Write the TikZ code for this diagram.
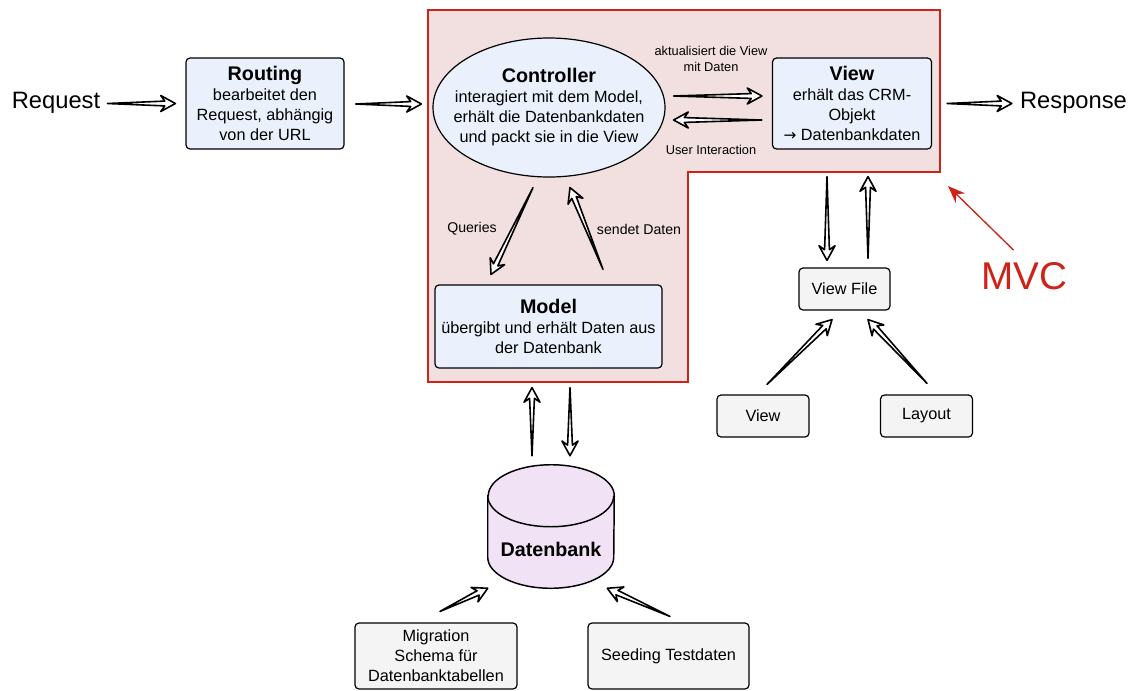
\documentclass[tikz,border=0pt]{standalone}
\usepackage{fontspec}
\setmainfont{Liberation Sans}
\newfontfamily\arrowfont{DejaVu Sans}
\usepackage{xcolor}
\usetikzlibrary{shapes,arrows,arrows.meta,calc,positioning}

\definecolor{boxblue}{HTML}{EAF1FC}
\definecolor{filegray}{HTML}{F4F4F4}
\definecolor{dbpurple}{HTML}{F1E2F6}
\definecolor{mvcpink}{HTML}{F2E0E0}
\definecolor{mvcred}{HTML}{CD2318}

\newcommand{\bodyfont}{\fontsize{12.2}{15}\selectfont}
\newcommand{\titlefont}{\fontsize{14.8}{15}\selectfont\bfseries}
\newcommand{\bigfont}{\fontsize{17.8}{20}\selectfont}
\newcommand{\mvcfont}{\fontsize{29}{32}\selectfont}

% hollow sketch arrow from #1 to #2
\newcommand{\hollowarrow}[2]{%
  \coordinate (ha-s) at #1;
  \coordinate (ha-e) at #2;
  \coordinate (ha-h) at ($(ha-e)!8pt!(ha-s)$);
  \coordinate (ha-b) at ($(ha-e)!11pt!(ha-s)$);
  \draw[hollow] (ha-s) -- ($(ha-h)!1.8pt!90:(ha-e)$) -- ($(ha-b)!6pt!90:(ha-e)$)
    -- (ha-e) -- ($(ha-b)!6pt!-90:(ha-e)$) -- ($(ha-h)!1.8pt!-90:(ha-e)$) -- cycle;}

\begin{document}
\begin{tikzpicture}[x=0.75pt, y=-0.75pt,
  boxnode/.style = {shape=rectangle, rounded corners=3pt,
    draw, line width=0.9pt, align=center, inner sep=0pt, font=\bodyfont},
  bluenode/.style = {boxnode, fill=boxblue},
  graynode/.style = {boxnode, fill=filegray},
  ellnode/.style = {shape=ellipse, draw, line width=0.9pt, fill=boxblue,
    align=center, inner xsep=-14pt, inner ysep=-6pt, font=\bodyfont},
  dbnode/.style = {shape=rectangle, inner sep=0pt, minimum width=94.5pt, minimum height=92.25pt},
  dbshape/.style = {draw, line width=1.1pt, fill=dbpurple},
  smalllabel/.style = {align=center, inner sep=0pt, font=\fontsize{9.6}{12}\selectfont},
  flowlabel/.style = {inner sep=0pt, font=\fontsize{10.6}{13}\selectfont},
  hollow/.style = {draw, fill=white, line width=1.2pt, line join=round},
  mvcregion/.style = {draw=mvcred, fill=mvcpink, line width=2pt, line join=miter},
  mvcarrow/.style = {draw=mvcred, line width=1pt, -{Stealth[length=13pt, width=10pt]}}
  ]
  \useasboundingbox (0,0) rectangle (1132,690);

  % MVC area
  \draw[mvcregion] (428,10) -- (940,10) -- (940,172) coordinate (mvccorner)
    -- (688,172) -- (688,382) -- (428,382) -- cycle;

  \node[font=\bigfont, inner sep=0pt] (request) at (56,103) {Request};
  \node[bluenode, minimum width=118.5pt, minimum height=68.25pt] (routing) at (265,103.5)
    {{\titlefont Routing}\\bearbeitet den\\Request, abhängig\\von der URL};
  \node[ellnode, minimum width=174pt, minimum height=104.25pt] (controller) at (549,107.5)
    {{\titlefont Controller}\\interagiert mit dem Model,\\erhält die Datenbankdaten\\und packt sie in die View};
  \node[bluenode, minimum width=119.25pt, minimum height=68.25pt] (view) at (852,103.5)
    {{\titlefont View}\\erhält das CRM-\\Objekt\\{\arrowfont\fontsize{11.5}{15}\selectfont →} Datenbankdaten};
  \node[bluenode, minimum width=170.25pt, minimum height=62.25pt] (model) at (548.5,326.5)
    {{\titlefont Model}\\übergibt und erhält Daten aus\\der Datenbank};
  \node[font=\bigfont, inner sep=0pt] (response) at (1073.5,103) {Response};

  \node[smalllabel] (updlabel) at (711,59) {aktualisiert die View\\mit Daten};
  \node[smalllabel] (uilabel) at (711,150) {User Interaction};
  \node[flowlabel] (querylabel) at (472,229) {Queries};
  \node[flowlabel] (sendlabel) at (639,229) {sendet Daten};

  \node[graynode, minimum width=68.25pt, minimum height=31.5pt] (viewfile) at (844.5,289) {View File};
  \node[graynode, minimum width=69pt, minimum height=31.5pt] (viewpart) at (763,416) {View};
  \node[graynode, minimum width=69pt, minimum height=31.5pt] (layout) at (926.5,416) {Layout};

  % Datenbank cylinder
  \node[dbnode] (db) at (551,526.5) {};
  \draw[dbshape] ($(db.north west)+(0,31)$) -- ($(db.south west)+(0,-31)$)
    arc[start angle=180, end angle=360, x radius=47.25pt, y radius=23.25pt]
    -- ($(db.north east)+(0,31)$)
    arc[start angle=0, end angle=180, x radius=47.25pt, y radius=23.25pt] -- cycle;
  \draw[line width=1.1pt] ($(db.north west)+(0,31)$)
    arc[start angle=180, end angle=360, x radius=47.25pt, y radius=23.25pt];
  \node[font=\titlefont, inner sep=0pt] (dblabel) at ($(db.center)+(0,22.5)$) {Datenbank};

  \node[graynode, minimum width=121.5pt, minimum height=49.5pt] (migration) at (436,656)
    {Migration\\Schema für\\Datenbanktabellen};
  \node[graynode, minimum width=120.75pt, minimum height=49.5pt] (seeding) at (668.5,656)
    {Seeding Testdaten};

  \node[font=\mvcfont, text=mvcred, inner sep=0pt] (mvc) at (1024.5,276) {MVC};

  % connectors
  \hollowarrow{($(request.east)+(7,0.5)$)}{($(routing.west)+(-10,0)$)}
  \hollowarrow{($(routing.east)+(11,0.5)$)}{($(controller.west)+(-11,-3.5)$)}
  \hollowarrow{($(controller.east)+(8,-11.5)$)}{($(view.west)+(-10,-7.5)$)}
  \hollowarrow{($(view.west)+(-10,16.5)$)}{($(controller.east)+(8,12.5)$)}
  \hollowarrow{($(view.east)+(15,0)$)}{($(response.west)+(-8,0.5)$)}
  \hollowarrow{($(controller.south)+(-16,10)$)}{($(model.north)+(-57.5,-10)$)}
  \hollowarrow{($(model.north)+(54.5,-15)$)}{($(controller.south)+(21,10)$)}
  \hollowarrow{($(view.south)+(-25,27)$)}{($(viewfile.north)+(-17.5,-7)$)}
  \hollowarrow{($(viewfile.north)+(23.5,-9)$)}{($(view.south)+(16,27)$)}
  \hollowarrow{($(viewpart.north)+(4,-10)$)}{($(viewfile.south)+(-12.5,9)$)}
  \hollowarrow{($(layout.north)+(0.5,-11)$)}{($(viewfile.south)+(23.5,9)$)}
  \hollowarrow{($(db.north)+(-19,-9)$)}{($(model.south)+(-16.5,19)$)}
  \hollowarrow{($(model.south)+(21.5,19)$)}{($(db.north)+(19,-9)$)}
  \hollowarrow{($(migration.north)+(4,-11)$)}{(db.south west)}
  \hollowarrow{($(seeding.north)+(1.5,-6)$)}{($(db.south east)+(-7,0)$)}
  \draw[mvcarrow] ($(mvc.north)+(-11,-12)$) -- ($(mvccorner)+(8,14)$);
\end{tikzpicture}
\end{document}
